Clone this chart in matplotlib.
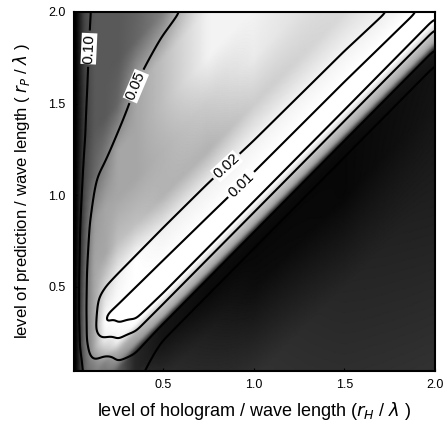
import numpy as np
import matplotlib
matplotlib.use("Agg")
import matplotlib.pyplot as plt

plt.rcParams['font.family'] = ['Liberation Sans', 'DejaVu Sans']

# ---- data -----------------------------------------------------------------
# field sampled on columns of hologram level (x) and rows of offset d = y - x
xs = [0.02, 0.07, 0.12, 0.18, 0.25, 0.35, 0.5, 0.75, 1.0, 1.5, 2.0]
ds = [-2.0, -1.0, -0.5, -0.3, -0.2, -0.16, -0.1, -0.05, 0.04, 0.13, 0.3, 0.5, 0.75, 1.0, 1.25, 1.5, 2.0]

# error value (contoured)
err = [
    [0.17, 0.15, 0.15, 0.15, 0.20, 0.25, 0.30, 0.35, 0.40, 0.40, 0.40],
    [0.17, 0.15, 0.12, 0.12, 0.15, 0.18, 0.22, 0.28, 0.30, 0.30, 0.30],
    [0.17, 0.15, 0.10, 0.10, 0.10, 0.12, 0.18, 0.20, 0.20, 0.20, 0.20],
    [0.17, 0.12, 0.09, 0.09, 0.08, 0.07, 0.105, 0.105, 0.105, 0.105, 0.105],
    [0.17, 0.10, 0.08, 0.08, 0.06, 0.047, 0.045, 0.045, 0.045, 0.045, 0.045],
    [0.17, 0.095, 0.075, 0.072, 0.05, 0.035, 0.033, 0.033, 0.033, 0.033, 0.033],
    [0.17, 0.09, 0.07, 0.065, 0.04, 0.021, 0.021, 0.021, 0.021, 0.021, 0.021],
    [0.17, 0.08, 0.06, 0.047, 0.0205, 0.0108, 0.0105, 0.0105, 0.0105, 0.0105, 0.0105],
    [0.16, 0.068, 0.030, 0.019, 0.0098, 0.0065, 0.004, 0.004, 0.004, 0.004, 0.005],
    [0.14, 0.054, 0.0215, 0.008, 0.0085, 0.0088, 0.0092, 0.0098, 0.0105, 0.011, 0.0125],
    [0.13, 0.052, 0.0215, 0.0195, 0.0193, 0.0194, 0.0195, 0.0198, 0.0205, 0.021, 0.023],
    [0.13, 0.053, 0.029, 0.027, 0.027, 0.026, 0.025, 0.024, 0.024, 0.024, 0.025],
    [0.135, 0.062, 0.039, 0.037, 0.035, 0.033, 0.031, 0.029, 0.028, 0.027, 0.028],
    [0.14, 0.083, 0.053, 0.05, 0.046, 0.041, 0.037, 0.034, 0.032, 0.03, 0.031],
    [0.145, 0.10, 0.066, 0.062, 0.057, 0.050, 0.045, 0.045, 0.036, 0.033, 0.034],
    [0.15, 0.107, 0.078, 0.073, 0.066, 0.058, 0.055, 0.049, 0.041, 0.036, 0.037],
    [0.16, 0.118, 0.094, 0.09, 0.082, 0.072, 0.065, 0.058, 0.05, 0.042, 0.043],
]

# grey shading of the background (0 = white, 1 = black)
shade = [
    [1.0, 0.6, 0.6, 0.6, 0.65, 0.7, 0.75, 0.75, 0.75, 0.78, 0.8],
    [1.0, 0.6, 0.6, 0.6, 0.65, 0.7, 0.75, 0.78, 0.8, 0.85, 0.88],
    [1.0, 0.6, 0.6, 0.6, 0.6, 0.75, 0.82, 0.88, 0.95, 0.97, 0.92],
    [1.0, 0.6, 0.6, 0.6, 0.62, 0.85, 0.92, 0.96, 0.97, 0.97, 0.93],
    [1.0, 0.6, 0.55, 0.55, 0.62, 0.85, 0.92, 0.95, 0.95, 0.95, 0.9],
    [1.0, 0.6, 0.55, 0.55, 0.45, 0.4, 0.35, 0.35, 0.35, 0.35, 0.35],
    [1.0, 0.6, 0.5, 0.5, 0.3, 0.3, 0.22, 0.22, 0.22, 0.22, 0.22],
    [1.0, 0.6, 0.5, 0.3, 0.05, 0.0, 0.0, 0.0, 0.0, 0.0, 0.0],
    [1.0, 0.6, 0.35, 0.05, 0.0, 0.0, 0.0, 0.0, 0.0, 0.0, 0.0],
    [1.0, 0.55, 0.35, 0.0, 0.0, 0.0, 0.0, 0.0, 0.0, 0.0, 0.0],
    [1.0, 0.55, 0.35, 0.15, 0.05, 0.0, 0.05, 0.05, 0.05, 0.05, 0.1],
    [1.0, 0.6, 0.35, 0.35, 0.25, 0.25, 0.3, 0.3, 0.2, 0.15, 0.1],
    [1.0, 0.65, 0.4, 0.35, 0.35, 0.35, 0.3, 0.2, 0.08, 0.15, 0.1],
    [1.0, 0.7, 0.6, 0.5, 0.35, 0.35, 0.25, 0.05, 0.05, 0.15, 0.1],
    [1.0, 0.75, 0.65, 0.65, 0.6, 0.35, 0.25, 0.05, 0.05, 0.15, 0.1],
    [1.0, 0.75, 0.65, 0.65, 0.65, 0.6, 0.5, 0.1, 0.05, 0.15, 0.1],
    [1.0, 0.7, 0.65, 0.65, 0.65, 0.65, 0.6, 0.1, 0.05, 0.15, 0.1],
]

levels = [0.01, 0.02, 0.05, 0.10]
label_pos = [(0.92, 1.07), (0.84, 1.17), (0.34, 1.60), (0.09, 1.80)]
xticks = [0.5, 1.0, 1.5, 2.0]
yticks = [0.5, 1.0, 1.5, 2.0]
xlabel = r"level of hologram / wave length ($r_H$ / $\lambda$ )"
ylabel = r"level of prediction / wave length ( $r_P$ / $\lambda$ )"


def surface(table, xg, yg):
    t = np.asarray(table, dtype=float)
    out = np.empty((len(yg), len(xg)))
    for j, xv in enumerate(xg):
        col = np.array([np.interp(xv, xs, t[i]) for i in range(len(ds))])
        out[:, j] = np.interp(yg - xv, ds, col)
    return out


def smooth(a, sigma):
    r = int(3 * sigma)
    k = np.exp(-0.5 * (np.arange(-r, r + 1) / sigma) ** 2)
    k /= k.sum()
    p = np.pad(a, r, mode='edge')
    p = np.apply_along_axis(lambda v: np.convolve(v, k, mode='valid'), 0, p)
    p = np.apply_along_axis(lambda v: np.convolve(v, k, mode='valid'), 1, p)
    return p


xg = np.linspace(0.0, 2.0, 401)
yg = np.linspace(0.0, 2.0, 401)
X, Y = np.meshgrid(xg, yg)
F = smooth(surface(err, xg, yg), 3.5)
S = smooth(surface(shade, xg, yg), 1.5)

fig = plt.figure(figsize=(4.47, 4.29), dpi=100)
ax = fig.add_axes([74 / 447, 1 - 371 / 429, 361 / 447, 359 / 429])

ax.pcolormesh(X, Y, S, cmap='gray_r', vmin=0, vmax=1, shading='gouraud', rasterized=True)
cs = ax.contour(X, Y, F, levels=levels, colors='black', linewidths=1.5)
lbls = ax.clabel(cs, levels, inline=True, fmt='%.2f', fontsize=11, manual=label_pos, inline_spacing=3)
for t in lbls:
    t.set_bbox(dict(facecolor='white', edgecolor='none', pad=0.6))

ax.set_xlim(0.01, 2.0)
ax.set_ylim(0.04, 2.0)
ax.set_xticks(xticks)
ax.set_yticks(yticks)
ax.set_xticklabels([f"{v:.1f}" for v in xticks])
ax.set_yticklabels([f"{v:.1f}" for v in yticks])
ax.tick_params(direction='in', length=2, labelsize=9, pad=6)
for sp in ax.spines.values():
    sp.set_linewidth(1.5)

ax.set_xlabel(xlabel, fontsize=13, labelpad=6)
ax.set_ylabel(ylabel, fontsize=12, labelpad=12)

fig.savefig("out.png", dpi=100)
